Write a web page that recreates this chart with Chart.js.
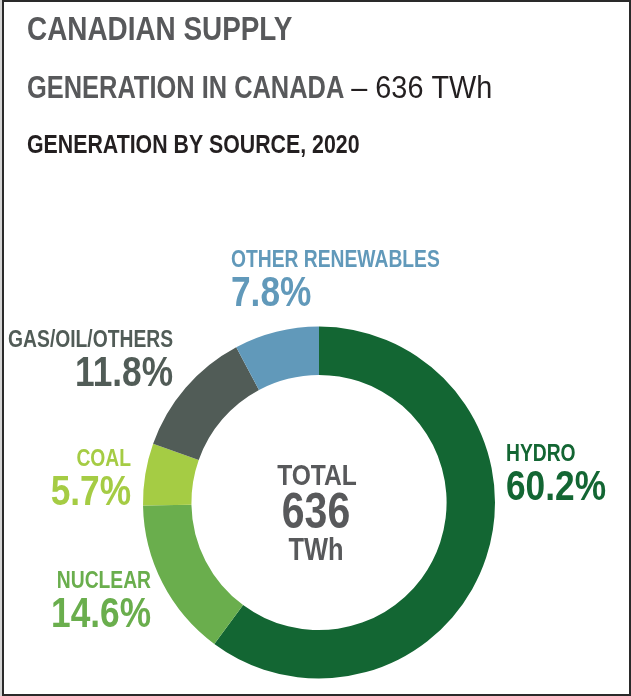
<!DOCTYPE html>
<html>
<head>
<meta charset="utf-8">
<title>Canadian Supply</title>
<script src="https://cdn.jsdelivr.net/npm/chart.js@4.4.1/dist/chart.umd.min.js"></script>
<style>
  html, body { margin: 0; padding: 0; background: #fff; }
  body { width: 631px; height: 696px; position: relative; overflow: hidden; }
  #edge { position: absolute; left: 0; top: 0; width: 3px; height: 696px; background: #d4d4d4; }
  #frame {
    position: absolute; left: 2px; top: 0; width: 625px; height: 692px;
    border: 2px solid #2a2a2a; box-sizing: content-box;
  }
  #supplyChart { position: absolute; left: 0; top: 0; }
</style>
</head>
<body>
<div id="edge"></div>
<div id="frame"></div>
<canvas id="supplyChart" width="631" height="696"></canvas>

<script>
// Generation by source, 2020 (share of total, %)
const sources = ["HYDRO", "NUCLEAR", "COAL", "GAS/OIL/OTHERS", "OTHER RENEWABLES"];
const shares = [60.2, 14.6, 5.7, 11.8, 7.8];
const totalTWh = 636;
const year = 2020;

const sourceColors = ["#136633", "#6aae4d", "#a5cc44", "#515c57", "#6199ba"];

// where each source label sits (x, baseline of name, baseline of percent, alignment)
const labelSpots = [
  { x: 506, nameY: 461, pctY: 500, align: "left" },
  { x: 151, nameY: 588, pctY: 627, align: "right" },
  { x: 131, nameY: 466, pctY: 505, align: "right" },
  { x: 173, nameY: 347, pctY: 386, align: "right" },
  { x: 231, nameY: 267, pctY: 306, align: "left" },
];

// no narrow face is installed, so squeeze Liberation Sans horizontally
const FONT = '"Liberation Sans", Arial, sans-serif';
const SQUEEZE = 0.82;
const GREY = "#58595b";
const INK = "#231f20";

function text(ctx, str, x, y, size, color, align, weight, squeeze) {
  const sx = squeeze || SQUEEZE;
  ctx.save();
  ctx.font = (weight || "bold") + " " + size + "px " + FONT;
  ctx.fillStyle = color;
  ctx.textAlign = align || "left";
  ctx.textBaseline = "alphabetic";
  ctx.translate(x, y);
  ctx.scale(sx, 1);
  ctx.fillText(str, 0, 0);
  const w = ctx.measureText(str).width * sx;
  ctx.restore();
  return w;
}

const labelsPlugin = {
  id: "supplyLabels",
  afterDraw(chart) {
    const ctx = chart.ctx;

    // headings
    text(ctx, "CANADIAN SUPPLY", 27, 40, 34, GREY);
    const w = text(ctx, "GENERATION IN CANADA", 27, 98, 31, GREY);
    text(ctx, "\u2013 " + totalTWh + " TWh", 34 + w, 98, 31, INK, "left", "normal", 0.93);
    text(ctx, "GENERATION BY SOURCE, " + year, 27, 153, 26, INK);

    // source names and shares
    sources.forEach((name, i) => {
      const spot = labelSpots[i];
      text(ctx, name, spot.x, spot.nameY, 23.5, sourceColors[i], spot.align);
      text(ctx, shares[i].toFixed(1) + "%", spot.x, spot.pctY, 43, sourceColors[i], spot.align);
    });

    // centre total
    const arc = chart.getDatasetMeta(0).data[0];
    const cx = arc.x;
    text(ctx, "TOTAL", cx - 2, 485, 30, GREY, "center");
    text(ctx, String(totalTWh), cx - 3, 528, 50, GREY, "center");
    text(ctx, "TWh", cx - 3, 560, 31, GREY, "center");
  },
};

new Chart(document.getElementById("supplyChart"), {
  type: "doughnut",
  data: {
    labels: sources,
    datasets: [
      {
        data: shares,
        backgroundColor: sourceColors,
        borderWidth: 0,
      },
    ],
  },
  options: {
    responsive: false,
    animation: false,
    cutout: "72.5%",
    layout: {
      padding: { left: 143, right: 136, top: 326.5, bottom: 17.5 },
    },
    plugins: {
      legend: { display: false },
      tooltip: { enabled: false },
    },
  },
  plugins: [labelsPlugin],
});
</script>
</body>
</html>
